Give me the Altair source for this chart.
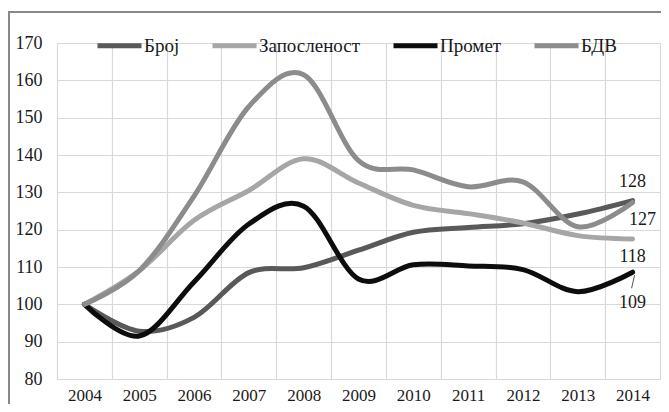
import altair as alt
import pandas as pd

years = [2004, 2005, 2006, 2007, 2008, 2009, 2010, 2011, 2012, 2013, 2014]
series_names = ["Број", "Запосленост", "Промет", "БДВ"]
broj = [100, 92.8, 96.5, 108.5, 109.8, 114.5, 119.3, 120.6, 121.6, 124.2, 127.8]
zaposlenost = [100, 109, 122.5, 130.5, 139, 132.5, 126.5, 124.3, 121.8, 118.4, 117.5]
promet = [100, 91.5, 106, 121.5, 126.3, 106.8, 110.6, 110.3, 109.3, 103.4, 108.6]
bdv = [100, 109, 129, 153, 161.5, 138.5, 136, 131.5, 132.8, 120.8, 127.3]
colors = ["#595959", "#a6a6a6", "#0d0d0d", "#8c8c8c"]
y_ticks = [80, 90, 100, 110, 120, 130, 140, 150, 160, 170]

values = [broj, zaposlenost, promet, bdv]
rows = []
for name, vals in zip(series_names, values):
    for yr, v in zip(years, vals):
        rows.append({"year": str(yr), "series": name, "value": v,
                     "label": str(int(round(v)))})
df = pd.DataFrame(rows)
last_year = str(years[-1])

FONT = "Liberation Serif"
TXT = "#1a1a1a"

xenc = alt.X("year:O", scale=alt.Scale(type="band", paddingInner=0, paddingOuter=0),
             axis=alt.Axis(tickBand="extent", grid=True, ticks=False, domain=False,
                           labelAngle=0, labelFontSize=17, labelPadding=8, title=None,
                           labelOverlap=False))
yenc = alt.Y("value:Q", scale=alt.Scale(domain=[80, 170], nice=False, zero=False),
             axis=alt.Axis(values=y_ticks, grid=True, ticks=False, domain=False,
                           labelFontSize=18, labelPadding=15, title=None,
                           labelOverlap=False))

base = alt.Chart(df).encode(x=xenc, y=yenc)

lines = base.mark_line(
    interpolate="cardinal", strokeWidth=5, strokeCap="round", strokeJoin="round"
).encode(
    color=alt.Color("series:N",
                    scale=alt.Scale(domain=series_names, range=colors),
                    legend=alt.Legend(title=None, orient="none", direction="horizontal",
                                      legendX=38, legendY=-22, symbolType="stroke",
                                      symbolSize=1936, symbolStrokeWidth=5,
                                      labelFontSize=19, labelOffset=0,
                                      columnPadding=22, padding=0)),
)


def end_label(name, dx, dy):
    return base.transform_filter(
        (alt.datum.series == name) & (alt.datum.year == last_year)
    ).mark_text(
        font=FONT, fontSize=18, color=TXT, align="center", baseline="middle",
        dx=dx, dy=dy
    ).encode(text="label:N")


leader = base.transform_filter(
    (alt.datum.series == "Промет") & (alt.datum.year == last_year)
).mark_rule(
    color="#555555", strokeWidth=1, xOffset=2, x2Offset=-1, yOffset=3, y2Offset=16
).encode(x2="year:O", y2="value:Q")

frame = alt.Chart(pd.DataFrame({"a": [0]})).mark_rect(
    fill=None, stroke="#888888", strokeWidth=2
).encode(x=alt.value(-48), x2=alt.value(720), y=alt.value(-31), y2=alt.value(500))

chart = alt.layer(
    lines,
    end_label("Број", 0, -19),
    end_label("БДВ", 10, 18),
    end_label("Запосленост", 0, 18),
    end_label("Промет", 0, 31),
    leader,
    frame,
).properties(
    width=603, height=336,
    autosize=alt.AutoSizeParams(type="none"),
    padding={"left": 49, "top": 35, "right": 1, "bottom": 25},
    background="white",
).configure_view(stroke="#d9d9d9").configure_axis(
    labelFont=FONT, labelColor=TXT, gridColor="#d9d9d9", gridWidth=1.2
).configure_legend(labelFont=FONT, labelColor=TXT)

chart.save("out.html", embed_options={"renderer": "svg", "actions": False})
